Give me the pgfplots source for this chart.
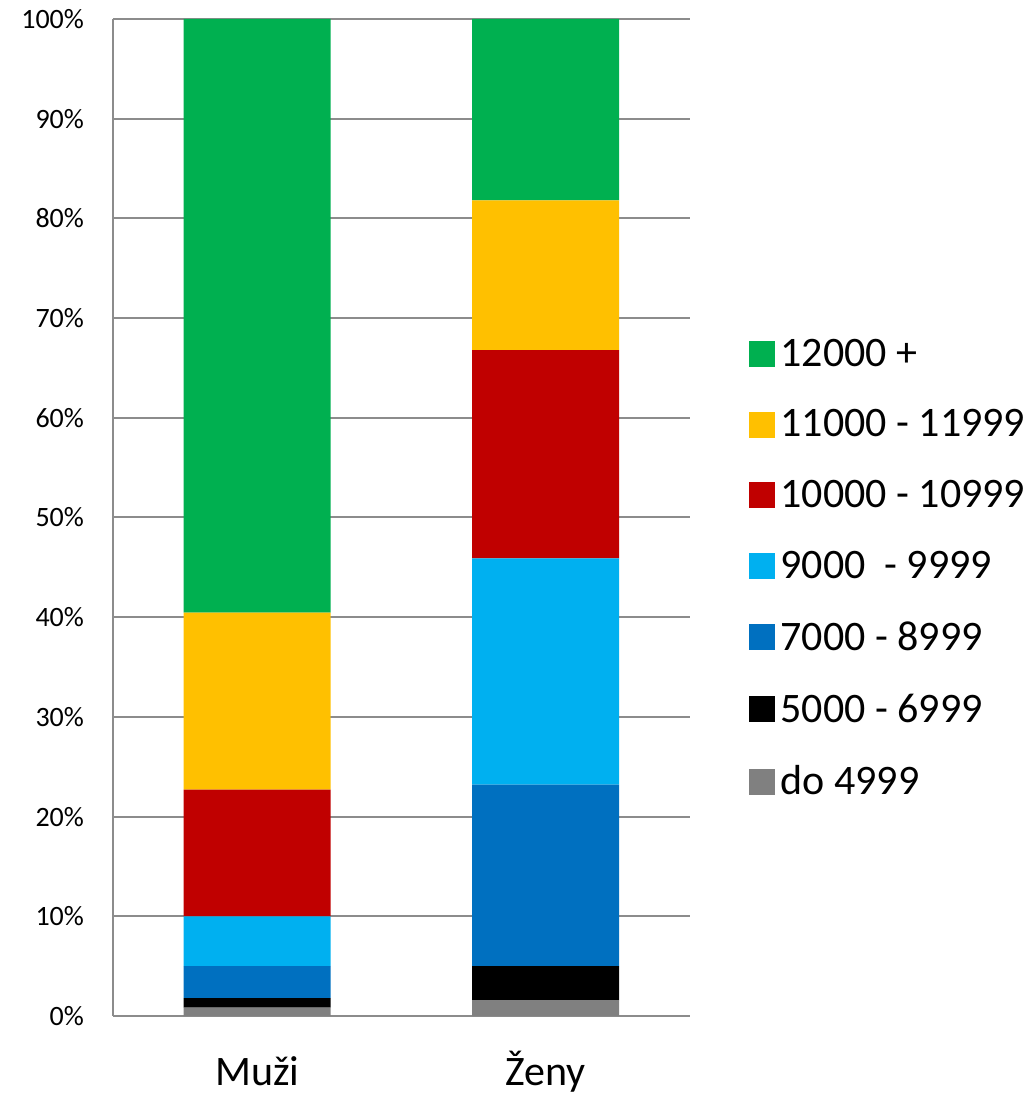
\documentclass[border=0pt]{standalone}
\usepackage{pgfplots}
\pgfplotsset{compat=1.18}
\usepackage{fontspec}
\setmainfont{Carlito}

\definecolor{cgreen}{HTML}{00B050}
\definecolor{cyellow}{HTML}{FFC000}
\definecolor{cred}{HTML}{C00000}
\definecolor{clblue}{HTML}{00B0F0}
\definecolor{cdblue}{HTML}{0070C0}
\definecolor{cgray}{HTML}{808080}
\definecolor{gridgray}{RGB}{140,140,140}

\begin{document}
\begin{tikzpicture}
\begin{axis}[
    scale only axis,
    width=288.5pt, height=498.5pt,
    ybar stacked,
    bar width=73.5pt,
    xmin=-0.5, xmax=1.5,
    ymin=0, ymax=100,
    xtick=data,
    xticklabels={Muži, Ženy},
    ytick={0,10,...,100},
    yticklabel={\pgfmathprintnumber{\tick}\%},
    /pgf/number format/assume math mode=true,
    ymajorgrids,
    grid style={gridgray, line width=1pt},
    axis x line*=bottom,
    axis y line*=left,
    axis line style={gridgray, line width=1.2pt},
    major tick length=0pt,
    yticklabel style={font=\fontsize{14}{17}\selectfont, xshift=-11pt},
    xticklabel style={font=\fontsize{21}{25}\selectfont, anchor=base, yshift=-34.5pt},
    legend style={at={(1.092,0.449)}, anchor=west, draw=none,
        font=\fontsize{21}{25}\selectfont, row sep=15.2pt,
        nodes={inner sep=2.5pt}},
    legend cell align=left,
    reverse legend,
    legend image code/.code={\fill[#1] (0pt,-6.5pt) rectangle (13pt,6.5pt);},
]
\addplot[fill=cgray, draw=none] coordinates {(0,0.85) (1,1.6)};
\addlegendentry{do 4999}
\addplot[fill=black, draw=none] coordinates {(0,0.95) (1,3.4)};
\addlegendentry{5000 - 6999}
\addplot[fill=cdblue, draw=none] coordinates {(0,3.2) (1,18.2)};
\addlegendentry{7000 - 8999}
\addplot[fill=clblue, draw=none] coordinates {(0,5.0) (1,22.7)};
\addlegendentry{9000 \ - 9999}
\addplot[fill=cred, draw=none] coordinates {(0,12.7) (1,20.9)};
\addlegendentry{10000 - 10999}
\addplot[fill=cyellow, draw=none] coordinates {(0,17.75) (1,15.0)};
\addlegendentry{11000 - 11999}
\addplot[fill=cgreen, draw=none] coordinates {(0,59.55) (1,18.2)};
\addlegendentry{12000 +}
\end{axis}
\pgfresetboundingbox
\path (-56.5pt,-39pt) rectangle (461pt,508pt);
\end{tikzpicture}
\end{document}
